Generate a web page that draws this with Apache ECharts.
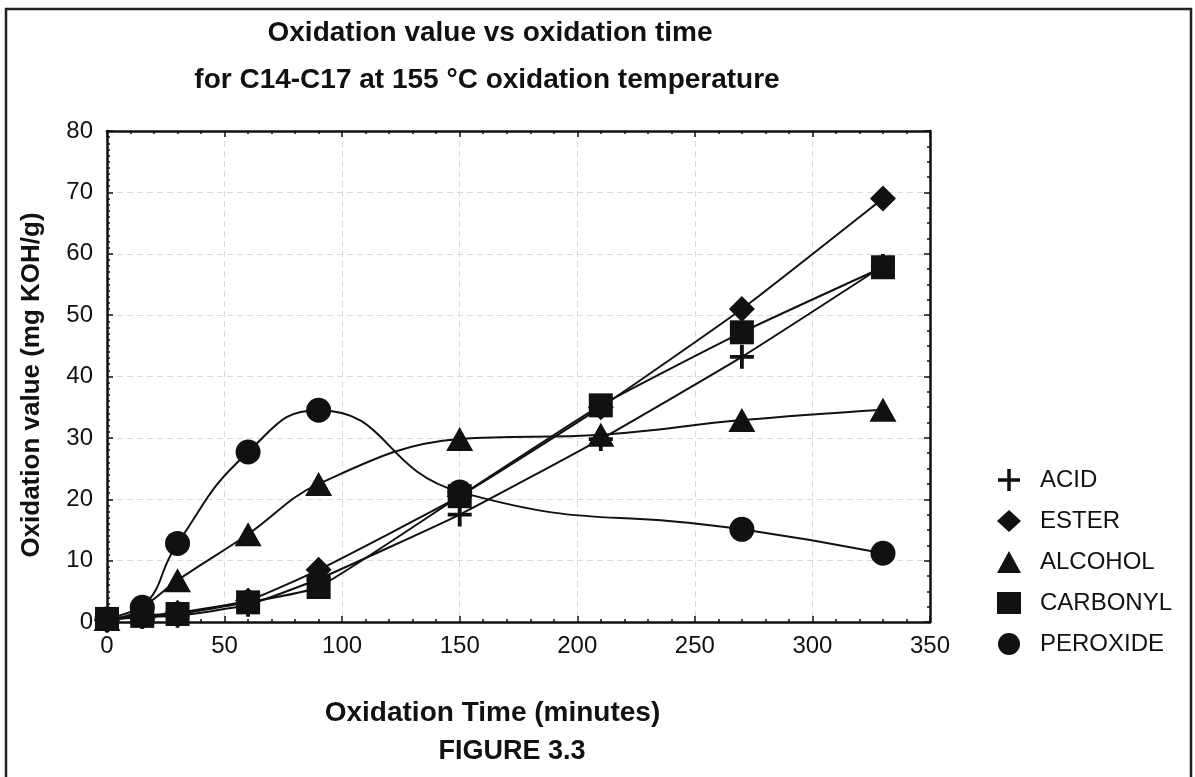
<!DOCTYPE html>
<html>
<head>
<meta charset="utf-8">
<script src="https://cdn.jsdelivr.net/npm/echarts@6/dist/echarts.min.js"></script>
<style>
html,body{margin:0;padding:0;background:#fff;}
#chart{width:1195px;height:777px;}
</style>
</head>
<body>
<div id="chart"></div>
<script>
// ---- data ----
const times = [0, 15, 30, 60, 90, 150, 210, 270, 330];
const acid = [0.3, 0.8, 1.0, 2.8, 7.0, 17.5, 29.8, 43.2, 58.0];
const ester = [0.3, 1.0, 1.5, 3.5, 8.5, 20.5, 35.0, 51.0, 69.0];
const alcohol = [0.5, 2.5, 6.8, 14.3, 22.5, 29.8, 30.5, 32.9, 34.6];
const carbonyl = [0.5, 1.0, 1.3, 3.2, 5.7, 20.5, 35.3, 47.2, 57.8];
const peroxideTimes = [0, 15, 30, 60, 90, 150, 270, 330];
const peroxide = [0.5, 2.4, 12.8, 27.7, 34.5, 21.2, 15.1, 11.2];
const seriesNames = ['ACID', 'ESTER', 'ALCOHOL', 'CARBONYL', 'PEROXIDE'];
const xTicks = {min: 0, max: 350, interval: 50};
const yTicks = {min: 0, max: 80, interval: 10};
const titleLines = ['Oxidation value vs oxidation time', 'for C14-C17 at 155 \u00B0C oxidation temperature'];
const xName = 'Oxidation Time (minutes)';
const yName = 'Oxidation value (mg KOH/g)';
const figureLabel = 'FIGURE 3.3';

const pair = (xs, ys) => xs.map((x, i) => [x, ys[i]]);
const FONT = '"Liberation Sans", Arial, sans-serif';
const crossPath = 'path://M8.4,0 H11.6 V8.4 H20 V11.6 H11.6 V20 H8.4 V11.6 H0 V8.4 H8.4 Z';

const symbols = {
  ACID: {symbol: crossPath, size: [24, 24]},
  ESTER: {symbol: 'diamond', size: [26, 26]},
  ALCOHOL: {symbol: 'triangle', size: [27, 24]},
  CARBONYL: {symbol: 'rect', size: [24, 24]},
  PEROXIDE: {symbol: 'circle', size: [25, 25]}
};
const dataMap = {
  ACID: pair(times, acid),
  ESTER: pair(times, ester),
  ALCOHOL: pair(times, alcohol),
  CARBONYL: pair(times, carbonyl),
  PEROXIDE: pair(peroxideTimes, peroxide)
};
const smoothMap = {ACID: 0.15, ESTER: 0.15, ALCOHOL: 0.4, CARBONYL: 0.15, PEROXIDE: 0.5};

const chart = echarts.init(document.getElementById('chart'), null, {renderer: 'canvas'});

const axisCommon = {
  axisLine: {show: true, onZero: false, lineStyle: {color: '#111', width: 2.5}},
  axisTick: {show: true, inside: true, length: 6, lineStyle: {color: '#111', width: 1.5}},
  minorTick: {show: true, length: 3, lineStyle: {color: '#111', width: 1.5}},
  splitLine: {show: false},
  axisLabel: {show: false}
};

const option = {
  animation: false,
  backgroundColor: '#fff',
  grid: {left: 107, top: 131, width: 823, height: 491, containLabel: false},
  xAxis: [
    Object.assign({}, axisCommon, {
      type: 'value', position: 'bottom', min: xTicks.min, max: xTicks.max, interval: xTicks.interval,
      minorTick: {show: true, splitNumber: 5, length: 3, lineStyle: {color: '#111', width: 1.5}},
      splitLine: {show: true, lineStyle: {color: '#dadada', width: 1, type: [6, 4]}},
      axisLabel: {show: true, color: '#111', fontSize: 24, fontFamily: FONT, margin: 12},
      name: xName, nameLocation: 'middle', nameGap: 77,
      nameTextStyle: {color: '#111', fontSize: 28, fontWeight: 'bold', fontFamily: FONT, padding: [0, 52, 0, 0]}
    }),
    Object.assign({}, axisCommon, {
      type: 'value', position: 'top', min: xTicks.min, max: xTicks.max, interval: xTicks.interval,
      minorTick: {show: true, splitNumber: 5, length: 3, lineStyle: {color: '#111', width: 1.5}}
    })
  ],
  yAxis: [
    Object.assign({}, axisCommon, {
      type: 'value', position: 'left', min: yTicks.min, max: yTicks.max, interval: yTicks.interval,
      minorTick: {show: true, splitNumber: 10, length: 3, lineStyle: {color: '#111', width: 1.5}},
      splitLine: {show: true, lineStyle: {color: '#dadada', width: 1, type: [6, 4]}},
      axisLabel: {show: true, color: '#111', fontSize: 24, fontFamily: FONT, margin: 14},
      name: yName, nameLocation: 'middle', nameGap: 62, nameRotate: 90,
      nameTextStyle: {color: '#111', fontSize: 26, fontWeight: 'bold', fontFamily: FONT, padding: [0, 17, 0, 0]}
    }),
    Object.assign({}, axisCommon, {
      type: 'value', position: 'right', min: yTicks.min, max: yTicks.max, interval: yTicks.interval,
      minorTick: {show: true, splitNumber: 4, length: 3, lineStyle: {color: '#111', width: 1.5}}
    })
  ],
  legend: {
    orient: 'vertical', left: 992, top: 463, itemGap: 17, itemWidth: 24, itemHeight: 22,
    textStyle: {color: '#111', fontSize: 24, fontFamily: FONT, padding: [0, 0, 0, 14]},
    data: seriesNames.map(n => ({name: n, icon: symbols[n].symbol}))
  },
  series: seriesNames.map(n => ({
    name: n, type: 'line', xAxisIndex: 0, yAxisIndex: 0,
    data: dataMap[n], smooth: smoothMap[n],
    symbol: symbols[n].symbol, symbolSize: symbols[n].size, showAllSymbol: true,
    lineStyle: {color: '#111', width: 2},
    itemStyle: {color: '#111', borderWidth: 0},
    clip: true, z: 3
  })),
  graphic: [
    {type: 'rect', z: -10, silent: true, shape: {x: 6, y: 9, width: 1185, height: 820},
     style: {fill: 'none', stroke: '#222', lineWidth: 2.5}},
    {type: 'text', x: 490, y: 33, silent: true,
     style: {text: titleLines[0], fill: '#111', font: 'bold 28px ' + FONT, textAlign: 'center', textVerticalAlign: 'middle'}},
    {type: 'text', x: 487, y: 80, silent: true,
     style: {text: titleLines[1], fill: '#111', font: 'bold 28px ' + FONT, textAlign: 'center', textVerticalAlign: 'middle'}},
    {type: 'text', x: 512, y: 752, silent: true,
     style: {text: figureLabel, fill: '#111', font: 'bold 27px ' + FONT, textAlign: 'center', textVerticalAlign: 'middle'}}
  ]
};
chart.setOption(option);
</script>
</body>
</html>
